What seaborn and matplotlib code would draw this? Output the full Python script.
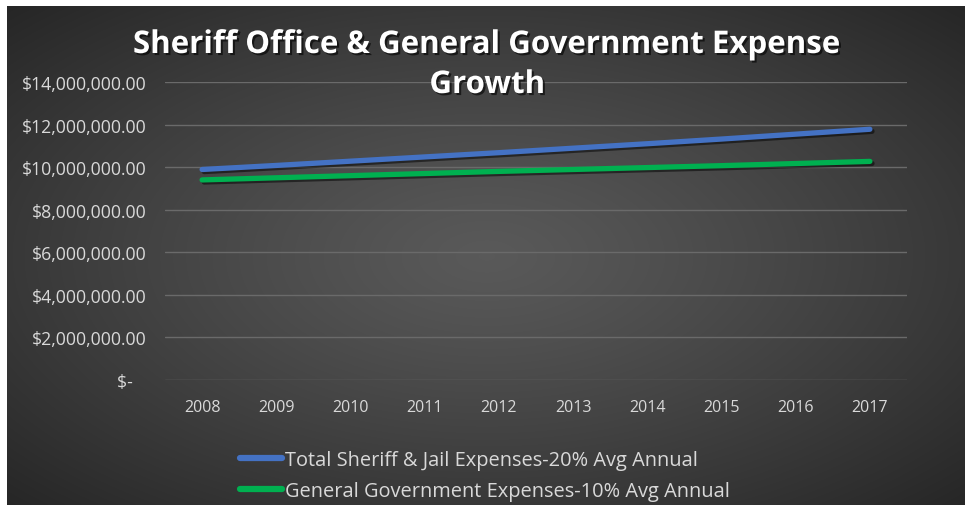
import numpy as np
import pandas as pd
import matplotlib
matplotlib.use("Agg")
import matplotlib.pyplot as plt
import matplotlib.patheffects as pe
from matplotlib.lines import Line2D
from matplotlib.ticker import FuncFormatter
import seaborn as sns

# ---- data ----
years = [2008, 2009, 2010, 2011, 2012, 2013, 2014, 2015, 2016, 2017]
sheriff = [9.89e6, 10.08e6, 10.28e6, 10.48e6, 10.68e6, 10.89e6, 11.10e6, 11.32e6, 11.55e6, 11.78e6]
general = [9.40e6, 9.50e6, 9.60e6, 9.70e6, 9.80e6, 9.89e6, 9.98e6, 10.07e6, 10.17e6, 10.27e6]
series_names = ["Total Sheriff & Jail Expenses-20% Avg Annual",
                "General Government Expenses-10% Avg Annual"]
title_lines = ["Sheriff Office & General Government Expense", "Growth"]
colors = ["#4472C4", "#00B050"]

df = pd.DataFrame({
    "Year": years * 2,
    "Value": sheriff + general,
    "Series": [series_names[0]] * len(years) + [series_names[1]] * len(years),
})

sns.set_theme(style="dark")
plt.rcParams["font.family"] = ["Open Sans", "DejaVu Sans"]

W, H = 965, 506
fig = plt.figure(figsize=(W / 100, H / 100), dpi=100, facecolor="white")

# background with radial gradient
bg = fig.add_axes([7 / W, 0, 1 - 7 / W, 1 - 7 / H])
bg.set_axis_off()
ny, nx = 250, 480
yy, xx = np.mgrid[0:ny, 0:nx]
cx, cy = nx * 0.5, ny * 0.5
r = np.sqrt(((xx - cx) / (nx * 0.5)) ** 2 + ((yy - cy) / (ny * 0.5)) ** 2) / np.sqrt(2)
g = 0.35 - 0.20 * np.clip(r, 0, 1) ** 1.2
img = np.dstack([g, g, g])
bg.imshow(img, aspect="auto", extent=[0, 1, 0, 1], interpolation="bilinear")
bg.set_xlim(0, 1)
bg.set_ylim(0, 1)

ax = fig.add_axes([165 / W, 1 - 381 / H, (907 - 165) / W, (381 - 83) / H])
ax.patch.set_alpha(0)

sns.lineplot(data=df, x="Year", y="Value", hue="Series", palette=colors,
             linewidth=3.8, ax=ax, legend=False, solid_capstyle="round")
for ln in ax.lines:
    ln.set_path_effects([pe.SimpleLineShadow(offset=(1.5, -1.5), shadow_color="black", alpha=0.5),
                         pe.Normal()])

ax.set_xlim(years[0] - 0.5, years[-1] + 0.5)
ax.set_ylim(0, 14e6)
ax.set_yticks(np.arange(0, 14e6 + 1, 2e6))
ax.set_xticks(years)
ax.yaxis.set_major_formatter(FuncFormatter(lambda v, p: "$-   " if v == 0 else f"${v:,.2f}"))
ax.grid(axis="y", color="#6a6a6a", linewidth=1)
ax.grid(axis="x", visible=False)
ax.set_axisbelow(True)
for s in ax.spines.values():
    s.set_visible(False)
ax.set_xlabel("")
ax.set_ylabel("")
ax.tick_params(axis="y", length=0, pad=13, labelsize=12.7, labelcolor="#d9d9d9")
ax.tick_params(axis="x", length=0, pad=14, labelsize=11.5, labelcolor="#d9d9d9")

shadow = [pe.SimplePatchShadow(offset=(1.5, -1.5), shadow_rgbFace="black", alpha=0.6), pe.Normal()]
for line, base in zip(title_lines, [54, 94]):
    fig.text(0.505, 1 - base / H, line, ha="center", va="baseline", color="white",
             fontsize=22.5, fontweight="bold", path_effects=shadow)

handles = [Line2D([0], [0], color=c, linewidth=4.5) for c in colors]
leg = fig.legend(handles, series_names, loc="upper left",
                 bbox_to_anchor=(240 / W, 1 - 451 / H), frameon=False,
                 fontsize=14.4, labelcolor="#d9d9d9", handlelength=2.1,
                 handletextpad=0.15, labelspacing=0.55, borderaxespad=0, borderpad=0)

fig.savefig("out.png", dpi=100, facecolor="white")
